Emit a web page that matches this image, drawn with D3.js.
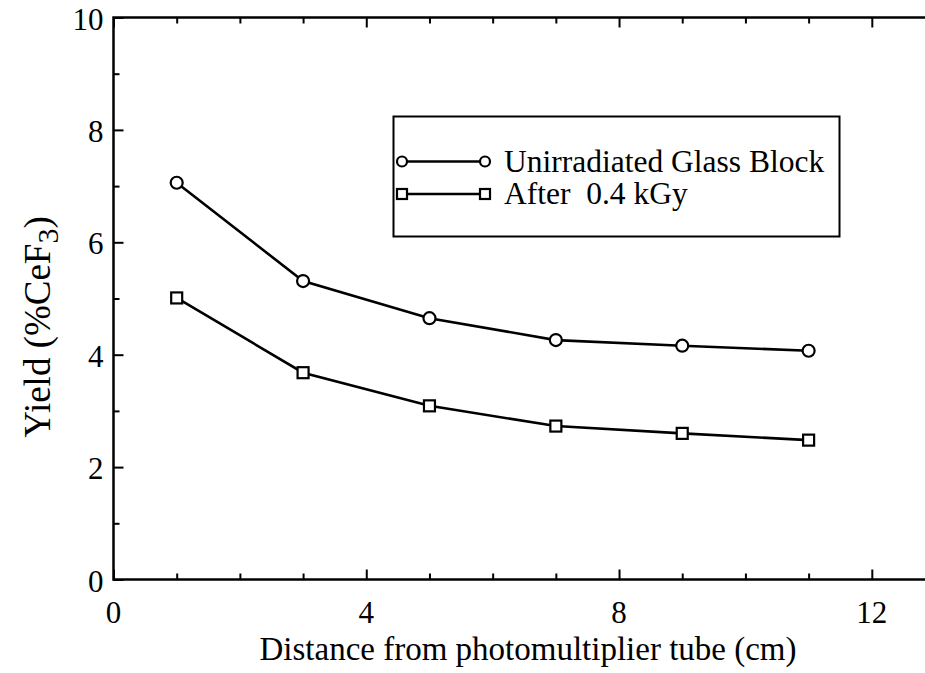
<!DOCTYPE html>
<html>
<head>
<meta charset="utf-8">
<script src="https://cdn.jsdelivr.net/npm/d3@7"></script>
<style>
  html, body { margin: 0; padding: 0; background: #fff; }
  svg { display: block; font-family: "Liberation Serif", "Times New Roman", serif; }
</style>
</head>
<body>
<svg id="chart" width="925" height="673"></svg>
<script>
// Distance along the block (cm)
const distances = [1, 3, 5, 7, 9, 11];
// Light yield relative to CeF3 (%)
const unirradiated = [7.06, 5.31, 4.65, 4.26, 4.16, 4.07];
const after04kGy = [5.01, 3.68, 3.09, 2.73, 2.60, 2.48];

const seriesNames = ["Unirradiated Glass Block", "After  0.4 kGy"];
const xTickLabels = [0, 4, 8, 12];
const yTickLabels = [0, 2, 4, 6, 8, 10];

const svg = d3.select("#chart");

const x = d3.scaleLinear().domain([0, 13]).range([113.5, 935]);
const y = d3.scaleLinear().domain([0, 10]).range([579.5, 17.5]);

const axisW = 2.5;
const majorLen = 10, minorLen = 6;
const xMinor = d3.range(0, 14, 1).filter(v => v % 4 !== 0);
const yMinor = d3.range(1, 10, 2);

// Frame axes with inward ticks on all four sides
function addAxis(axisFn, scale, values, len, transform) {
  const g = svg.append("g")
    .attr("transform", transform)
    .call(axisFn(scale).tickValues(values).tickSize(-len).tickFormat(""));
  g.selectAll("path.domain").remove();
  g.selectAll(".tick line").attr("stroke", "#000").attr("stroke-width", 2);
  return g;
}
const x0 = x(0), x1 = x(13), y0 = y(0), y1 = y(10);

addAxis(d3.axisBottom, x, xTickLabels, majorLen, `translate(0,${y0})`);
addAxis(d3.axisBottom, x, xMinor, minorLen, `translate(0,${y0})`);
addAxis(d3.axisTop, x, xTickLabels, majorLen, `translate(0,${y1})`);
addAxis(d3.axisTop, x, xMinor, minorLen, `translate(0,${y1})`);
addAxis(d3.axisLeft, y, yTickLabels, majorLen, `translate(${x0},0)`);
addAxis(d3.axisLeft, y, yMinor, minorLen, `translate(${x0},0)`);
addAxis(d3.axisRight, y, yTickLabels, majorLen, `translate(${x1},0)`);
addAxis(d3.axisRight, y, yMinor, minorLen, `translate(${x1},0)`);

svg.append("rect")
  .attr("x", x0).attr("y", y1)
  .attr("width", x1 - x0).attr("height", y0 - y1)
  .attr("fill", "none").attr("stroke", "#000").attr("stroke-width", axisW);

// Tick labels
svg.append("g").selectAll("text").data(yTickLabels).join("text")
  .attr("x", x0 - 10).attr("y", d => y(d) + 12)
  .attr("text-anchor", "end").attr("font-size", 31)
  .text(d => d);

svg.append("g").selectAll("text").data(xTickLabels).join("text")
  .attr("x", d => x(d)).attr("y", y0 + 43)
  .attr("text-anchor", "middle").attr("font-size", 31)
  .text(d => d);

// Axis titles
svg.append("text")
  .attr("x", 528).attr("y", 660)
  .attr("text-anchor", "middle").attr("font-size", 33)
  .text("Distance from photomultiplier tube (cm)");

const yTitle = svg.append("text")
  .attr("transform", "translate(50,327) rotate(-90)")
  .attr("text-anchor", "middle").attr("font-size", 37);
yTitle.append("tspan").text("Yield (%CeF");
yTitle.append("tspan").attr("dy", 8).attr("font-size", 30).text("3");
yTitle.append("tspan").attr("dy", -8).text(")");

// Data series
const line = d3.line().x(d => x(d[0])).y(d => y(d[1]));
const seriesData = [
  distances.map((d, i) => [d, unirradiated[i]]),
  distances.map((d, i) => [d, after04kGy[i]])
];

seriesData.forEach(pts => {
  svg.append("path").datum(pts)
    .attr("d", line).attr("fill", "none")
    .attr("stroke", "#000").attr("stroke-width", 2.6);
});

function drawMarker(g, kind, cx, cy, size) {
  if (kind === "circle") {
    g.append("circle").attr("cx", cx).attr("cy", cy).attr("r", size / 2)
      .attr("fill", "#fff").attr("stroke", "#000").attr("stroke-width", 2.2);
  } else {
    g.append("rect").attr("x", cx - size / 2).attr("y", cy - size / 2)
      .attr("width", size).attr("height", size)
      .attr("fill", "#fff").attr("stroke", "#000").attr("stroke-width", 2.2);
  }
}

const markerKinds = ["circle", "square"];
const markers = svg.append("g");
seriesData.forEach((pts, s) => {
  pts.forEach(p => drawMarker(markers, markerKinds[s], x(p[0]), y(p[1]), s === 0 ? 12 : 11));
});

// Legend
const legend = svg.append("g");
legend.append("rect")
  .attr("x", 393.5).attr("y", 116.5).attr("width", 446).attr("height", 120)
  .attr("fill", "#fff").attr("stroke", "#000").attr("stroke-width", 2);

const legendRows = [161.5, 194];
seriesNames.forEach((name, i) => {
  const ly = legendRows[i];
  legend.append("line").attr("x1", 402).attr("x2", 485).attr("y1", ly).attr("y2", ly)
    .attr("stroke", "#000").attr("stroke-width", 2.4);
  drawMarker(legend, markerKinds[i], 402, ly, 10);
  drawMarker(legend, markerKinds[i], 485, ly, 10);
  legend.append("text")
    .attr("x", 504).attr("y", ly + 10)
    .attr("font-size", 31.5).attr("xml:space", "preserve")
    .style("white-space", "pre")
    .text(name);
});
</script>
</body>
</html>
